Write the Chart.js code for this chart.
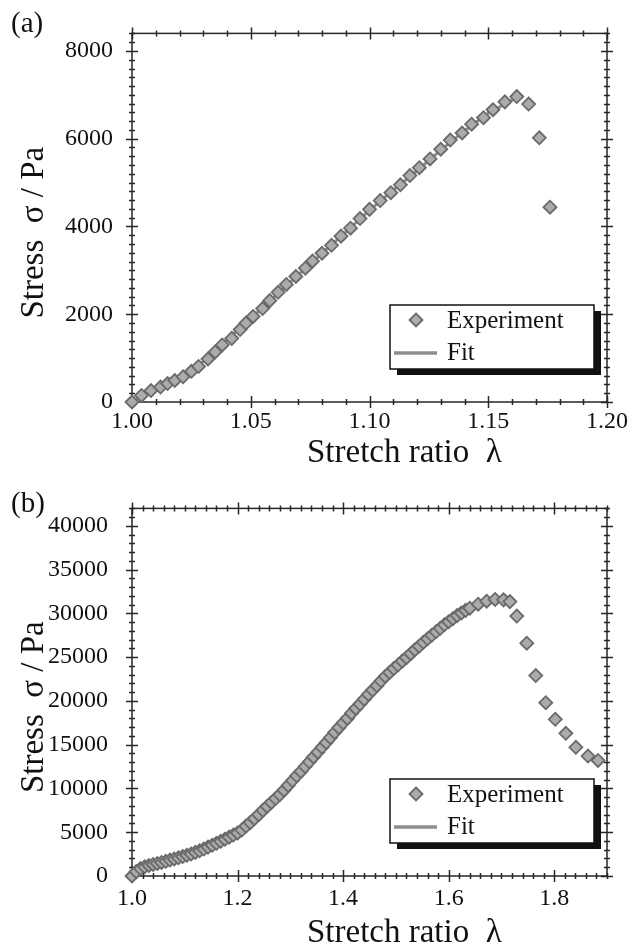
<!DOCTYPE html>
<html>
<head>
<meta charset="utf-8">
<script src="https://cdn.jsdelivr.net/npm/chart.js@4.4.1/dist/chart.umd.min.js"></script>
<style>
  html, body { margin: 0; padding: 0; background: #fff; }
  canvas { display: block; }
</style>
</head>
<body>
<canvas id="chartA" width="635" height="470"></canvas>
<canvas id="chartB" width="635" height="475"></canvas>
<script>
// ---- panel (a) ----
const expXA = [1.000, 1.004, 1.008, 1.012, 1.015, 1.018, 1.0215, 1.025, 1.028, 1.032,
  1.035, 1.038, 1.042, 1.0455, 1.048, 1.051, 1.055, 1.058, 1.0615, 1.065,
  1.069, 1.073, 1.076, 1.080, 1.084, 1.088, 1.092, 1.096, 1.100, 1.1045,
  1.109, 1.113, 1.117, 1.121, 1.1255, 1.130, 1.134, 1.139, 1.143, 1.148,
  1.152, 1.157, 1.162, 1.167, 1.1715, 1.176];
const expYA = [0, 150, 260, 340, 420, 490, 575, 700, 810, 980,
  1140, 1300, 1450, 1650, 1800, 1950, 2130, 2310, 2500, 2680,
  2860, 3050, 3210, 3390, 3570, 3780, 3960, 4180, 4390, 4590,
  4770, 4950, 5160, 5340, 5540, 5760, 5970, 6130, 6330, 6480,
  6660, 6840, 6960, 6790, 6020, 4440];
const fitXA = [1.00, 1.01, 1.02, 1.03, 1.04, 1.05, 1.06, 1.07, 1.08, 1.09,
  1.10, 1.11, 1.12, 1.13, 1.14, 1.15, 1.16, 1.162];
const fitYA = [0, 260, 560, 920, 1420, 1900, 2400, 2900, 3390, 3870,
  4370, 4830, 5270, 5740, 6180, 6580, 6880, 6930];
const xTicksA = [1.00, 1.05, 1.10, 1.15, 1.20];
const yTicksA = [0, 2000, 4000, 6000, 8000];

// ---- panel (b) ----
const expXB = [1.000, 1.008, 1.016, 1.024, 1.032, 1.040, 1.048, 1.056, 1.064, 1.072,
  1.080, 1.088, 1.096, 1.104, 1.112, 1.120, 1.128, 1.136, 1.144, 1.152,
  1.160, 1.168, 1.176, 1.184, 1.192, 1.200, 1.208, 1.216, 1.224, 1.232,
  1.240, 1.248, 1.256, 1.264, 1.272, 1.280, 1.288, 1.296, 1.304, 1.312,
  1.320, 1.328, 1.336, 1.344, 1.352, 1.360, 1.368, 1.376, 1.384, 1.392,
  1.400, 1.408, 1.416, 1.424, 1.432, 1.440, 1.448, 1.456, 1.464, 1.472,
  1.480, 1.488, 1.496, 1.504, 1.512, 1.520, 1.528, 1.536, 1.544, 1.552,
  1.560, 1.568, 1.576, 1.584, 1.592, 1.600, 1.608, 1.616, 1.624, 1.632,
  1.640, 1.656, 1.672, 1.688, 1.704, 1.716, 1.729, 1.748, 1.765, 1.784,
  1.802, 1.822, 1.841, 1.864, 1.883];
const expYB = [0, 500, 850, 1050, 1200, 1320, 1430, 1550, 1680, 1820,
  1950, 2080, 2220, 2370, 2520, 2700, 2880, 3080, 3300, 3520,
  3740, 3960, 4200, 4440, 4680, 4920, 5250, 5700, 6100, 6550,
  7000, 7500, 7950, 8400, 8850, 9300, 9800, 10350, 10900, 11450,
  11950, 12500, 13050, 13600, 14150, 14700, 15250, 15800, 16400, 16950,
  17500, 18000, 18600, 19150, 19650, 20200, 20750, 21250, 21750, 22300,
  22800, 23250, 23700, 24100, 24550, 24950, 25400, 25850, 26250, 26700,
  27100, 27500, 27900, 28300, 28700, 29050, 29400, 29750, 30050, 30350,
  30600, 31050, 31400, 31600, 31550, 31350, 29700, 26600, 22900, 19800,
  17900, 16300, 14700, 13700, 13200];
const fitXB = [1.00, 1.05, 1.10, 1.15, 1.20, 1.25, 1.30, 1.35, 1.40, 1.45,
  1.50, 1.55, 1.60, 1.65, 1.70];
const fitYB = [0, 1300, 2250, 3450, 4950, 7700, 10500, 13900, 17500, 20900,
  23900, 26600, 29000, 30900, 31600];
const xTicksB = [1.0, 1.2, 1.4, 1.6, 1.8];
const yTicksB = [0, 5000, 10000, 15000, 20000, 25000, 30000, 35000, 40000];

const SERIF = "'Liberation Serif', 'Times New Roman', serif";
const INK = '#262626';
const MARK_FILL = '#ababab';
const MARK_EDGE = '#6a6a6a';
const FIT_COLOR = '#8e8e8e';

function diamond(ctx, x, y, r) {
  ctx.beginPath();
  ctx.moveTo(x, y - r);
  ctx.lineTo(x + r, y);
  ctx.lineTo(x, y + r);
  ctx.lineTo(x - r, y);
  ctx.closePath();
  ctx.fillStyle = MARK_FILL;
  ctx.strokeStyle = MARK_EDGE;
  ctx.lineWidth = 1.8;
  ctx.fill();
  ctx.stroke();
}

// frame with crossing ticks on all four sides
const framePlugin = {
  id: 'frame',
  beforeDatasetsDraw(chart, args, o) {
    const { ctx, chartArea: a, scales: { x, y } } = chart;
    ctx.save();
    ctx.strokeStyle = INK;
    ctx.lineWidth = 1.5;
    ctx.strokeRect(a.left, a.top, a.right - a.left, a.bottom - a.top);
    ctx.beginPath();
    let n = Math.round((x.max - x.min) / o.xMinor);
    for (let i = 0; i <= n; i++) {
      const v = x.min + i * o.xMinor;
      const major = o.xMajor.some(m => Math.abs(m - v) < 1e-6);
      const L = major ? 6 : 3;
      const px = Math.round(x.getPixelForValue(v)) + 0.5;
      ctx.moveTo(px, a.bottom - L); ctx.lineTo(px, a.bottom + L);
      ctx.moveTo(px, a.top - L); ctx.lineTo(px, a.top + L);
    }
    n = Math.round((y.max - y.min) / o.yMinor);
    for (let i = 0; i <= n; i++) {
      const v = y.min + i * o.yMinor;
      const major = o.yMajor.some(m => Math.abs(m - v) < 1e-6);
      const L = major ? 6 : 3;
      const py = Math.round(y.getPixelForValue(v)) + 0.5;
      ctx.moveTo(a.left - L, py); ctx.lineTo(a.left + L, py);
      ctx.moveTo(a.right - L, py); ctx.lineTo(a.right + L, py);
    }
    ctx.stroke();
    ctx.restore();
  },
  afterDraw(chart, args, o) {
    const { ctx, chartArea: a } = chart;
    ctx.save();
    ctx.fillStyle = '#111';
    ctx.textBaseline = 'alphabetic';
    // panel label
    ctx.font = '29px ' + SERIF;
    ctx.textAlign = 'left';
    ctx.fillText(o.panel, 11, o.panelY);
    // axis titles
    ctx.font = '33px ' + SERIF;
    ctx.fillText('Stretch ratio  \u03bb', a.left + 175, a.bottom + o.xTitleDy);
    ctx.save();
    ctx.translate(43, (a.top + a.bottom) / 2 + 15);
    ctx.rotate(-Math.PI / 2);
    ctx.textAlign = 'center';
    ctx.fillText('Stress  \u03c3 / Pa', 0, 0);
    ctx.restore();

    // legend box with drop shadow
    const W = 204, H = 64;
    const L = a.right - 217, T = a.bottom - 97;
    ctx.fillStyle = '#111';
    ctx.fillRect(L + 7, T + 6, W, H);
    ctx.fillStyle = '#fff';
    ctx.fillRect(L, T, W, H);
    ctx.strokeStyle = '#111';
    ctx.lineWidth = 1.5;
    ctx.strokeRect(L, T, W, H);
    diamond(ctx, L + 26, T + 15, 6.5);
    ctx.strokeStyle = FIT_COLOR;
    ctx.lineWidth = 3.5;
    ctx.beginPath();
    ctx.moveTo(L + 4, T + 48);
    ctx.lineTo(L + 47, T + 48);
    ctx.stroke();
    ctx.fillStyle = '#111';
    ctx.font = '25px ' + SERIF;
    ctx.textAlign = 'left';
    ctx.fillText(chart.data.datasets[0].label, L + 57, T + 23);
    ctx.fillText(chart.data.datasets[1].label, L + 57, T + 55);
    ctx.restore();
  }
};

function pairs(xs, ys) {
  return xs.map((x, i) => ({ x: x, y: ys[i] }));
}

function makeChart(id, p) {
  return new Chart(document.getElementById(id), {
    type: 'scatter',
    data: {
      datasets: [
        {
          label: 'Experiment',
          data: pairs(p.expX, p.expY),
          pointStyle: 'rectRot',
          pointRadius: 6.5,
          pointBorderWidth: 1.8,
          backgroundColor: MARK_FILL,
          borderColor: MARK_EDGE,
          showLine: false,
          clip: false,
          order: 0
        },
        {
          label: 'Fit',
          data: pairs(p.fitX, p.fitY),
          showLine: true,
          pointRadius: 0,
          borderColor: FIT_COLOR,
          borderWidth: 3,
          tension: 0,
          clip: false,
          order: 1
        }
      ]
    },
    options: {
      responsive: false,
      animation: false,
      events: [],
      layout: { padding: { left: 0, top: p.padTop, right: 28, bottom: 0 } },
      plugins: {
        legend: { display: false },
        tooltip: { enabled: false },
        frame: {
          panel: p.panel, panelY: p.panelY, xTitleDy: p.xTitleDy,
          xMinor: p.xMinor, yMinor: p.yMinor, xMajor: p.xTicks, yMajor: p.yTicks
        }
      },
      scales: {
        x: {
          type: 'linear',
          min: p.xMin, max: p.xMax,
          border: { display: false },
          grid: { display: false, drawTicks: false },
          afterBuildTicks: s => { s.ticks = p.xTicks.map(v => ({ value: v })); },
          afterFit: s => { s.height = p.xAxisH; },
          ticks: {
            padding: p.xPad,
            maxRotation: 0,
            color: '#111',
            font: { family: SERIF, size: 24 },
            callback: v => v.toFixed(p.xDec)
          }
        },
        y: {
          type: 'linear',
          min: 0, max: p.yMax,
          border: { display: false },
          grid: { display: false, drawTicks: false },
          afterBuildTicks: s => { s.ticks = p.yTicks.map(v => ({ value: v })); },
          afterFit: s => { s.width = 132; },
          ticks: {
            padding: p.yPad,
            color: '#111',
            font: { family: SERIF, size: 24 },
            callback: v => String(v)
          }
        }
      }
    },
    plugins: [framePlugin]
  });
}

makeChart('chartA', {
  expX: expXA, expY: expYA, fitX: fitXA, fitY: fitYA,
  xTicks: xTicksA, yTicks: yTicksA, xMin: 1.0, xMax: 1.2, yMax: 8400,
  xMinor: 0.01, yMinor: 200, xDec: 2,
  padTop: 21, xAxisH: 68, xPad: 5, yPad: 19,
  panel: '(a)', panelY: 32, xTitleDy: 60
});

makeChart('chartB', {
  expX: expXB, expY: expYB, fitX: fitXB, fitY: fitYB,
  xTicks: xTicksB, yTicks: yTicksB, xMin: 1.0, xMax: 1.9, yMax: 42000,
  xMinor: 0.02, yMinor: 1000, xDec: 1,
  padTop: 25, xAxisH: 69, xPad: 8, yPad: 24,
  panel: '(b)', panelY: 42, xTitleDy: 66
});
</script>
</body>
</html>
